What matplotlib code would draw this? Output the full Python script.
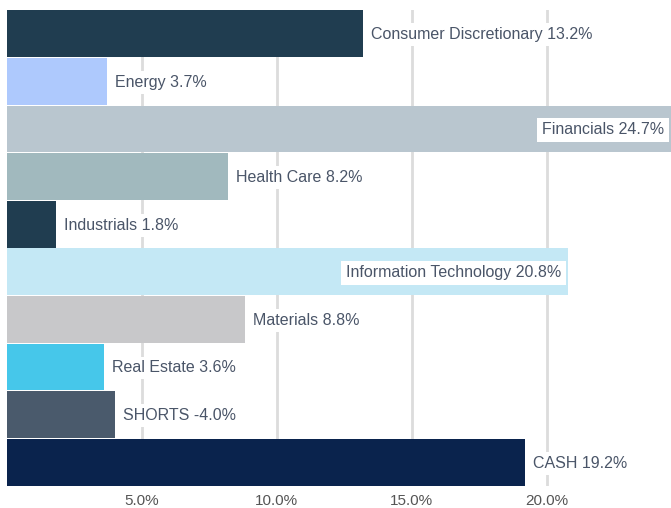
import matplotlib
matplotlib.use("Agg")
import matplotlib.pyplot as plt

categories = ["Consumer Discretionary", "Energy", "Financials", "Health Care", "Industrials",
              "Information Technology", "Materials", "Real Estate", "SHORTS", "CASH"]
values = [13.2, 3.7, 24.7, 8.2, 1.8, 20.8, 8.8, 3.6, -4.0, 19.2]
colors = ["#203d50", "#aec9fd", "#b9c6cf", "#a1b9be", "#203d50",
          "#c4e8f5", "#c8c8ca", "#46c7ea", "#4a5a6c", "#0a234d"]
inside = [False, False, True, False, False, True, False, False, False, False]
xticks = [5, 10, 15, 20]
xtick_labels = ["5.0%", "10.0%", "15.0%", "20.0%"]

plt.rcParams['font.family'] = ['Liberation Sans', 'DejaVu Sans']
W, H = 671, 508
fig = plt.figure(figsize=(W / 100, H / 100), dpi=100)
ax = fig.add_axes([7 / W, 22 / H, (W - 7) / W, (486 - 10) / H])

XMAX = 24.6
y = list(range(len(categories)))
lengths = [abs(v) for v in values]
ax.barh(y, lengths, height=0.98, color=colors, zorder=2)
ax.set_xlim(0, XMAX)
ax.set_ylim(len(categories) - 0.5, -0.5)

for xt in xticks:
    ax.axvline(xt, color="#dcdcdc", lw=2, zorder=1)

txt_color = "#4a5568"
px = 72 / 100
FS = 11.5
for i, (c, v, L, ins) in enumerate(zip(categories, values, lengths, inside)):
    label = f"{c} {v:.1f}%"
    if ins:
        xe = min(L, XMAX)
        ax.annotate(label, (xe, i), xytext=(-7 * px, -1 * px), textcoords="offset points",
                    ha="right", va="center", fontsize=FS, color=txt_color, zorder=4,
                    bbox=dict(boxstyle="square,pad=0.3", fc="white", ec="none"), annotation_clip=False)
    else:
        ax.annotate(label, (L, i), xytext=(8 * px, -1 * px), textcoords="offset points",
                    ha="left", va="center", fontsize=FS, color=txt_color, zorder=4,
                    bbox=dict(boxstyle="square,pad=0.25", fc="white", ec="none"))

ax.set_xticks(xticks)
ax.set_xticklabels(xtick_labels, color="#555555", fontsize=11)
ax.tick_params(axis="x", length=0, pad=6)
ax.set_yticks([])
for s in ax.spines.values():
    s.set_visible(False)

fig.savefig("out.png", dpi=100)
